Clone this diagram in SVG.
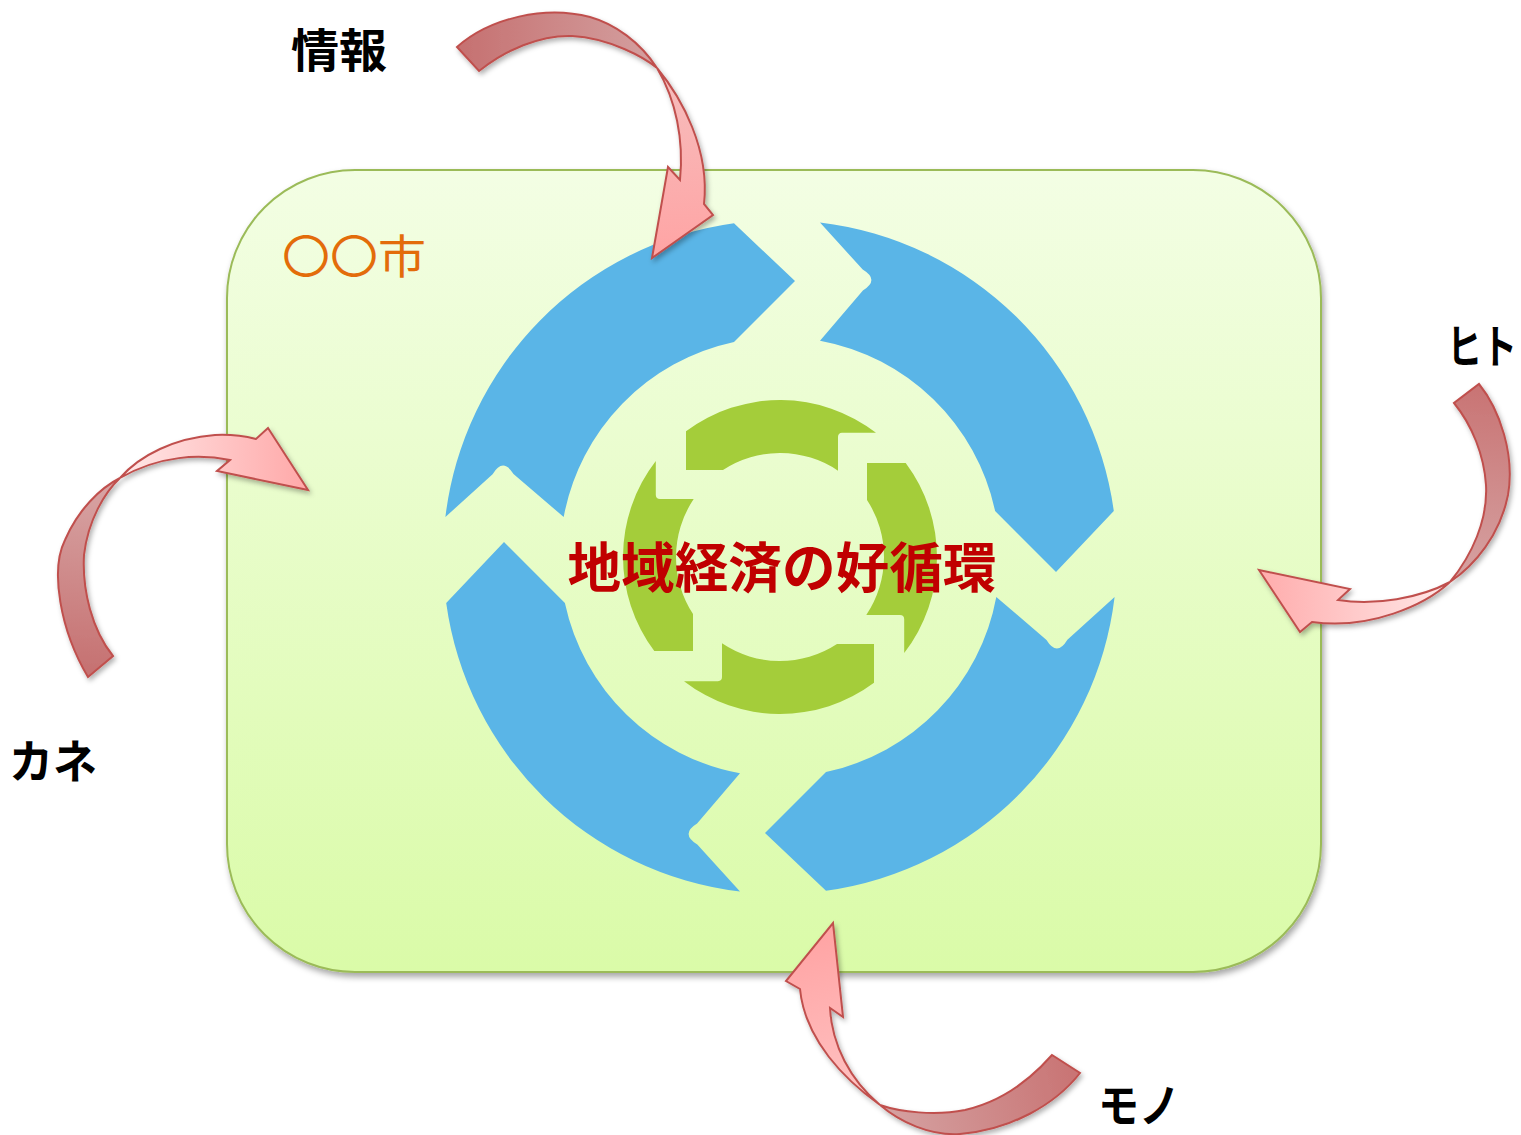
<svg xmlns="http://www.w3.org/2000/svg" width="1521" height="1135" viewBox="0 0 1521 1135">
<style>
.lbl{font-family:"Noto Sans CJK JP","Noto Sans",sans-serif;font-weight:700;font-size:46px;fill:#000}
.city{font-family:"Noto Sans CJK JP","Noto Sans",sans-serif;font-size:46px;fill:#E36C0A}
.title{font-family:"Noto Sans CJK JP","Noto Sans",sans-serif;font-weight:700;font-size:54px;fill:#C00000}
.blue{fill:#5AB5E7}
.green{fill:#A4CD3A}
.arr{stroke:#C0504D;stroke-width:2;stroke-linejoin:miter}
</style>
<defs>
<linearGradient id="bg" x1="0" y1="0" x2="0" y2="1">
<stop offset="0" stop-color="#F3FEE4"/>
<stop offset="1" stop-color="#DAFBA8"/>
</linearGradient>
<filter id="sh" x="-10%" y="-10%" width="120%" height="125%">
<feDropShadow dx="2" dy="4" stdDeviation="3" flood-color="#000" flood-opacity="0.35"/>
</filter>
<filter id="ash" x="-20%" y="-20%" width="140%" height="140%">
<feDropShadow dx="2" dy="3" stdDeviation="2.5" flood-color="#000" flood-opacity="0.3"/>
</filter>
<path id="bseg" d="M 820,222.4 A 337 337 0 0 1 1113.8,511 L 1056,572 L 995.1,511 A 220 220 0 0 0 820,340.7 L 862.9,290.5 Q 880,280 862.7,269.6 Z"/>
<path id="gseg" d="M 686,431.3 A 157 157 0 0 1 876,432.8 L 842,432.8 Q 838,433 838,437 L 838,470.7 A 104 104 0 0 0 723,470 L 686,470 Z"/>
<linearGradient id="g1b" gradientUnits="userSpaceOnUse" x1="465" y1="60" x2="657" y2="60"><stop offset="0" stop-color="#C67272"/><stop offset="1" stop-color="#D4A0A0"/></linearGradient>
<linearGradient id="g1f" gradientUnits="userSpaceOnUse" x1="660" y1="70" x2="665" y2="258"><stop offset="0" stop-color="#F6BDBD"/><stop offset="1" stop-color="#FFA4A4"/></linearGradient>
<linearGradient id="g2b" gradientUnits="userSpaceOnUse" x1="100" y1="670" x2="120" y2="478"><stop offset="0" stop-color="#C67272"/><stop offset="1" stop-color="#D8A6A6"/></linearGradient>
<linearGradient id="g2f" gradientUnits="userSpaceOnUse" x1="120" y1="470" x2="308" y2="470"><stop offset="0" stop-color="#FFE8E8"/><stop offset="1" stop-color="#FFA8A8"/></linearGradient>
<linearGradient id="g3b" gradientUnits="userSpaceOnUse" x1="1470" y1="390" x2="1450" y2="582"><stop offset="0" stop-color="#C97575"/><stop offset="1" stop-color="#D6A3A3"/></linearGradient>
<linearGradient id="g3f" gradientUnits="userSpaceOnUse" x1="1450" y1="600" x2="1259" y2="600"><stop offset="0" stop-color="#FFE8E8"/><stop offset="1" stop-color="#FFACAC"/></linearGradient>
<linearGradient id="g4b" gradientUnits="userSpaceOnUse" x1="1070" y1="1065" x2="880" y2="1110"><stop offset="0" stop-color="#C97575"/><stop offset="1" stop-color="#D5A2A2"/></linearGradient>
<linearGradient id="g4f" gradientUnits="userSpaceOnUse" x1="880" y1="1105" x2="825" y2="925"><stop offset="0" stop-color="#FFC4C4"/><stop offset="1" stop-color="#FFA3A3"/></linearGradient>
</defs>

<g id="city">
<rect x="227" y="170" width="1094" height="802" rx="128" ry="128" fill="url(#bg)" stroke="#9BBB59" stroke-width="2" filter="url(#sh)"/>
<text class="city" x="282" y="273" textLength="144" lengthAdjust="spacingAndGlyphs">〇〇市</text>
</g>

<g id="outer-cycle">
<use href="#bseg" class="blue"/>
<use href="#bseg" class="blue" transform="rotate(90 780 557)"/>
<use href="#bseg" class="blue" transform="rotate(180 780 557)"/>
<use href="#bseg" class="blue" transform="rotate(270 780 557)"/>
</g>

<g id="inner-cycle">
<use href="#gseg" class="green"/>
<use href="#gseg" class="green" transform="rotate(90 780 557)"/>
<use href="#gseg" class="green" transform="rotate(180 780 557)"/>
<use href="#gseg" class="green" transform="rotate(270 780 557)"/>
</g>

<g id="title">
<text class="title" x="782" y="588" text-anchor="middle" textLength="429" lengthAdjust="spacingAndGlyphs">地域経済の好循環</text>
</g>

<g id="connectors">
<g id="arrow-joho" filter="url(#ash)">
<path class="arr" fill="url(#g1b)" d="M 457,47 C 490,18 545,5 590,17 C 615,24 640,42 657,68 C 645,58 610,38 572,36 C 540,35 505,50 479,71 Z"/>
<path class="arr" fill="url(#g1f)" d="M 657,68 C 682,98 710,150 704,204 L 713,215 L 652,258 L 668,167 L 680,180 C 684,140 676,100 657,68 Z"/>
</g>
<g id="arrow-kane" filter="url(#ash)">
<path class="arr" fill="url(#g2b)" d="M 88,677 C 60,630 50,570 65,540 C 78,510 100,488 120,478 C 105,492 88,520 84,555 C 82,590 92,630 113,656 Z"/>
<path class="arr" fill="url(#g2f)" d="M 120,478 C 140,455 175,438 215,435 C 235,434 248,437 256,439 L 268,428 L 308,490 L 217,471 L 230,460 C 200,454 160,455 120,478 Z"/>
</g>
<g id="arrow-hito" filter="url(#ash)">
<path class="arr" fill="url(#g3b)" d="M 1479,384 C 1500,410 1515,455 1508,495 C 1500,535 1475,565 1450,582 C 1472,555 1488,520 1486,485 C 1484,455 1472,425 1454,403 Z"/>
<path class="arr" fill="url(#g3f)" d="M 1450,582 C 1425,605 1370,630 1312,622 L 1300,632 L 1259,570 L 1350,589 L 1338,600 C 1375,606 1420,598 1450,582 Z"/>
</g>
<g id="arrow-mono" filter="url(#ash)">
<path class="arr" fill="url(#g4b)" d="M 1080,1073 C 1055,1105 1010,1130 960,1134 C 930,1136 900,1122 880,1105 C 900,1112 935,1116 965,1110 C 1000,1102 1030,1080 1052,1055 Z"/>
<path class="arr" fill="url(#g4f)" d="M 880,1105 C 845,1080 805,1040 800,989 L 786,981 L 833,923 L 843,1017 L 830,1008 C 832,1045 850,1080 880,1105 Z"/>
</g>
</g>

<g id="labels">
<text id="joho" class="lbl" x="291" y="67" textLength="96" lengthAdjust="spacingAndGlyphs">情報</text>
<text id="hito" class="lbl" transform="translate(1447 363) scale(0.76 1)">ヒト</text>
<text id="kane" class="lbl" x="9" y="778" textLength="88" lengthAdjust="spacingAndGlyphs">カネ</text>
<text id="mono" class="lbl" x="1098" y="1122" textLength="82" lengthAdjust="spacingAndGlyphs">モノ</text>
</g>
</svg>
